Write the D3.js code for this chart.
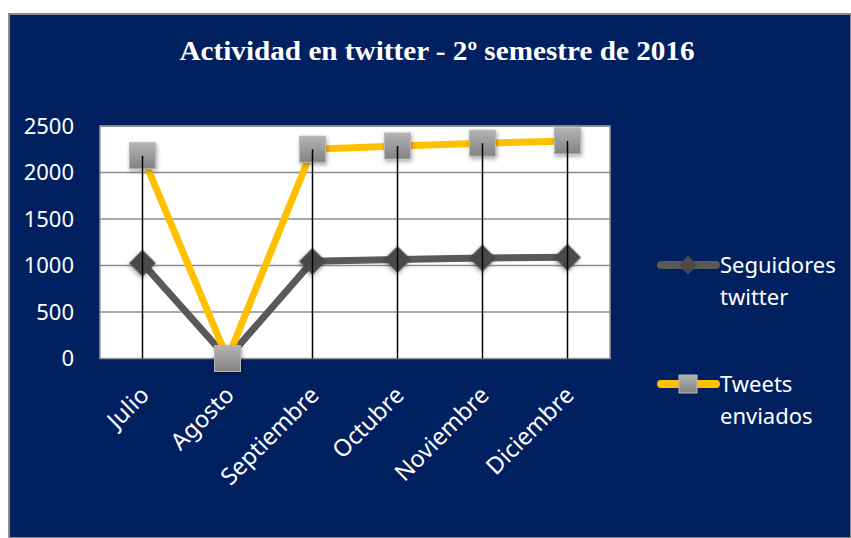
<!DOCTYPE html>
<html>
<head>
<meta charset="utf-8">
<script src="https://cdn.jsdelivr.net/npm/d3@7"></script>
<style>
  body { margin: 0; background: #fff; }
  svg { display: block; }
</style>
</head>
<body>
<svg id="chart" width="851" height="538"></svg>
<script>
const months = ["Julio", "Agosto", "Septiembre", "Octubre", "Noviembre", "Diciembre"];
const seguidores = [1025, 0, 1045, 1065, 1080, 1088];
const tweets = [2180, 0, 2250, 2285, 2315, 2340];
const y_ticks = [0, 500, 1000, 1500, 2000, 2500];
const series_names = [["Seguidores", "twitter"], ["Tweets", "enviados"]];

const svg = d3.select('#chart');
const W = 851, H = 538;
const plot = { left: 100, right: 610, top: 126, bottom: 358.5 };

// panel background
svg.append('rect')
    .attr('x', 9).attr('y', 14)
    .attr('width', W - 9).attr('height', H - 14)
    .attr('fill', '#012060')
    .attr('stroke', '#8a8a8a')
    .attr('stroke-width', 2);

// defs: gradient + shadow for square markers
const defs = svg.append('defs');
const grad = defs.append('linearGradient')
    .attr('id', 'sq_grad').attr('x1', 0).attr('y1', 0).attr('x2', 0).attr('y2', 1);
grad.append('stop').attr('offset', '0%').attr('stop-color', '#b4b4b4');
grad.append('stop').attr('offset', '100%').attr('stop-color', '#828282');

const shadow = defs.append('filter').attr('id', 'shadow')
    .attr('x', '-50%').attr('y', '-50%').attr('width', '200%').attr('height', '200%');
shadow.append('feDropShadow')
    .attr('dx', 1).attr('dy', 2).attr('stdDeviation', 2)
    .attr('flood-color', '#000').attr('flood-opacity', 0.35);

// title
svg.append('text')
    .attr('x', 437).attr('y', 60)
    .attr('text-anchor', 'middle')
    .attr('fill', '#fff')
    .attr('textLength', 515)
    .attr('lengthAdjust', 'spacingAndGlyphs')
    .style('font-family', '"Liberation Serif", serif')
    .style('font-weight', 'bold')
    .style('font-size', '27px')
    .text('Actividad en twitter - 2º semestre de 2016');

const x = d3.scaleBand().domain(months).range([plot.left, plot.right]).padding(0);
const y = d3.scaleLinear().domain([0, 2500]).range([plot.bottom, plot.top]);
const cx = d => x(d) + x.bandwidth() / 2;

// plot area
svg.append('rect')
    .attr('x', plot.left).attr('y', plot.top)
    .attr('width', plot.right - plot.left).attr('height', plot.bottom - plot.top)
    .attr('fill', '#fff')
    .attr('stroke', '#999')
    .attr('stroke-width', 1.5);

// gridlines
svg.append('g')
    .selectAll('line')
    .data(y_ticks.slice(1))
    .join('line')
    .attr('x1', plot.left).attr('x2', plot.right)
    .attr('y1', d => y(d)).attr('y2', d => y(d))
    .attr('stroke', '#8c8c8c')
    .attr('stroke-width', 1.5);

// y axis labels
const yAxis = svg.append('g')
    .attr('transform', `translate(${plot.left},0)`)
    .call(d3.axisLeft(y).tickValues(y_ticks).tickFormat(d3.format('d')).tickSize(0).tickPadding(26));
yAxis.select('.domain').remove();
yAxis.selectAll('text')
    .attr('fill', '#fff')
    .style('font-family', '"Noto Sans", sans-serif')
    .style('font-size', '22px');

// x axis labels
const xAxis = svg.append('g')
    .attr('transform', `translate(0,${plot.bottom})`)
    .call(d3.axisBottom(x).tickSize(0).tickPadding(0));
xAxis.select('.domain').remove();
xAxis.selectAll('text')
    .attr('fill', '#fff')
    .attr('text-anchor', 'end')
    .attr('dy', 0)
    .attr('transform', 'translate(8,38) rotate(-45)')
    .style('font-family', '"Noto Sans", sans-serif')
    .style('font-size', '23.5px');

// lines
const seg_line = d3.line().x((d, i) => cx(months[i])).y(d => y(d));
svg.append('path')
    .datum(seguidores)
    .attr('d', seg_line)
    .attr('fill', 'none')
    .attr('stroke', '#595959')
    .attr('stroke-width', 7)
    .attr('stroke-linejoin', 'round');

svg.append('path')
    .datum(tweets)
    .attr('d', seg_line)
    .attr('fill', 'none')
    .attr('stroke', '#ffc000')
    .attr('stroke-width', 7)
    .attr('stroke-linejoin', 'round');

// diamond markers
const diamond = d3.symbol().type(d3.symbolSquare).size(360);
svg.append('g')
    .selectAll('path')
    .data(seguidores)
    .join('path')
    .attr('d', diamond)
    .attr('transform', (d, i) => `translate(${cx(months[i])},${y(d)}) rotate(45)`)
    .attr('fill', '#4a4a4a')
    .attr('filter', 'url(#shadow)');

// square markers
svg.append('g')
    .selectAll('rect')
    .data(tweets)
    .join('rect')
    .attr('x', (d, i) => cx(months[i]) - 13)
    .attr('y', d => y(d) - 13)
    .attr('width', 26).attr('height', 26)
    .attr('fill', 'url(#sq_grad)')
    .attr('stroke', '#b8b8b8')
    .attr('stroke-width', 1)
    .attr('filter', 'url(#shadow)');

// drop lines
svg.append('g')
    .selectAll('line')
    .data(months)
    .join('line')
    .attr('x1', d => cx(d)).attr('x2', d => cx(d))
    .attr('y1', (d, i) => y(Math.max(tweets[i], seguidores[i])))
    .attr('y2', plot.bottom)
    .attr('stroke', '#000')
    .attr('stroke-width', 1.5);

// legend
const legend = svg.append('g');
const leg_y = [265, 384];
const leg_colors = ['#595959', '#ffc000'];
series_names.forEach((name, k) => {
    const g = legend.append('g').attr('transform', `translate(0,${leg_y[k]})`);
    g.append('line')
        .attr('x1', 661).attr('x2', 716)
        .attr('stroke', leg_colors[k])
        .attr('stroke-width', 8)
        .attr('stroke-linecap', 'round');
    if (k === 0) {
        g.append('path')
            .attr('d', d3.symbol().type(d3.symbolSquare).size(180))
            .attr('transform', 'translate(688,0) rotate(45)')
            .attr('fill', '#4a4a4a');
    } else {
        g.append('rect')
            .attr('x', 679).attr('y', -9)
            .attr('width', 18).attr('height', 18)
            .attr('fill', 'url(#sq_grad)')
            .attr('stroke', '#b8b8b8');
    }
    g.append('text')
        .attr('x', 720).attr('y', 8)
        .attr('fill', '#fff')
        .style('font-family', '"Noto Sans", sans-serif')
        .style('font-size', '22px')
        .selectAll('tspan')
        .data(name)
        .join('tspan')
        .attr('x', 720)
        .attr('dy', (d, j) => j === 0 ? 0 : 32)
        .text(d => d);
});
</script>
</body>
</html>
